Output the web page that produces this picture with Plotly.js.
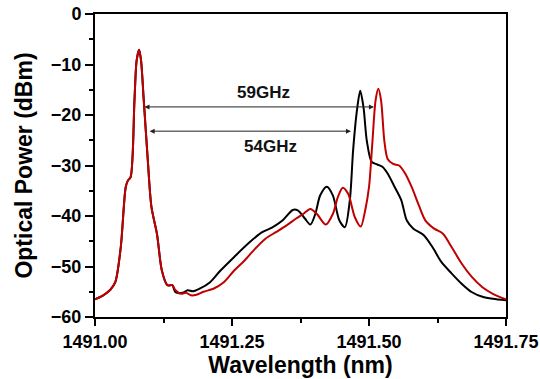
<!DOCTYPE html>
<html>
<head>
<meta charset="utf-8">
<script src="https://cdn.plot.ly/plotly-3.0.1.min.js"></script>
<style>html,body{margin:0;padding:0;background:#fff;}#chart{width:540px;height:379px;}</style>
</head>
<body>
<div id="chart"></div>
<script>
// Wavelength (nm) and optical power (dBm), black trace
const blackX = [1491.000,1491.015,1491.028,1491.037,1491.047,1491.056,1491.060,1491.065,1491.072,1491.076,1491.0805,1491.084,1491.089,1491.096,1491.103,1491.113,1491.122,1491.132,1491.141,1491.147,1491.160,1491.169,1491.179,1491.191,1491.210,1491.229,1491.254,1491.279,1491.305,1491.323,1491.342,1491.361,1491.370,1491.383,1491.393,1491.402,1491.411,1491.423,1491.434,1491.446,1491.456,1491.465,1491.471,1491.478,1491.484,1491.490,1491.496,1491.505,1491.515,1491.525,1491.534,1491.547,1491.559,1491.569,1491.581,1491.600,1491.616,1491.632,1491.651,1491.669,1491.688,1491.707,1491.726,1491.750];
const blackY = [-56.5,-55.7,-54.6,-53.1,-46.2,-34.3,-33.0,-32.3,-17.1,-9.2,-7.1,-9.2,-17.1,-28.4,-38.2,-43.5,-50.8,-53.7,-53.7,-55.1,-55.2,-54.7,-54.9,-54.4,-53.1,-50.8,-48.1,-45.5,-43.2,-42.3,-40.9,-38.8,-38.9,-40.5,-41.7,-39.6,-35.9,-34.2,-35.9,-40.9,-42.2,-36.9,-27.0,-19.1,-15.2,-18.5,-25.1,-29.3,-29.8,-30.3,-31.6,-34.3,-36.9,-40.9,-42.5,-43.8,-46.2,-49.1,-51.4,-53.4,-55.1,-56.0,-56.4,-56.7];
// Red trace
const redX = [1491.000,1491.015,1491.028,1491.037,1491.047,1491.056,1491.060,1491.065,1491.072,1491.076,1491.0805,1491.084,1491.089,1491.096,1491.103,1491.113,1491.122,1491.132,1491.141,1491.147,1491.157,1491.166,1491.175,1491.185,1491.198,1491.216,1491.235,1491.254,1491.273,1491.292,1491.311,1491.330,1491.349,1491.367,1491.380,1491.393,1491.405,1491.421,1491.434,1491.443,1491.452,1491.462,1491.474,1491.485,1491.493,1491.500,1491.506,1491.512,1491.517,1491.522,1491.528,1491.534,1491.544,1491.555,1491.566,1491.578,1491.591,1491.603,1491.619,1491.635,1491.651,1491.669,1491.688,1491.707,1491.726,1491.750];
const redY = [-56.5,-55.7,-54.6,-53.1,-46.2,-34.3,-33.0,-32.3,-17.1,-9.2,-7.1,-9.2,-17.1,-28.4,-38.2,-43.5,-50.8,-53.7,-53.7,-54.7,-55.4,-55.2,-55.7,-55.6,-55.0,-54.4,-53.1,-50.8,-48.8,-46.5,-44.5,-43.2,-41.9,-40.5,-39.6,-38.6,-39.6,-41.7,-39.6,-36.3,-34.4,-35.6,-40.2,-42.1,-38.9,-34.3,-25.7,-17.1,-14.8,-17.1,-25.1,-28.7,-29.7,-30.0,-31.6,-34.3,-37.9,-40.9,-42.5,-43.5,-46.2,-49.4,-52.1,-54.1,-55.4,-56.5];
// Spacing arrows
const arrowLabels = ["59GHz", "54GHz"];
const arrowStartX = [1491.0876, 1491.097];
const arrowEndX = [1491.509, 1491.467];
const arrowY = [-18.4, -23.2];
const labelX = [1491.308, 1491.321];
const labelY = [-15.6, -26.3];
const xTicks = [1491.00, 1491.25, 1491.50, 1491.75];
const xTickText = ["1491.00", "1491.25", "1491.50", "1491.75"];
const yTicks = [0, -10, -20, -30, -40, -50, -60];

const F = "Liberation Sans, Arial, sans-serif";
const traces = [
  {x: blackX, y: blackY, type: "scatter", mode: "lines", line: {color: "#000000", width: 2, shape: "spline", smoothing: 0.8}, showlegend: false},
  {x: redX, y: redY, type: "scatter", mode: "lines", line: {color: "#c00000", width: 2, shape: "spline", smoothing: 0.8}, showlegend: false}
];
const annotations = [];
for (let i = 0; i < arrowLabels.length; i++) {
  annotations.push({x: arrowEndX[i], y: arrowY[i], ax: arrowStartX[i], ay: arrowY[i], xref: "x", yref: "y", axref: "x", ayref: "y",
    text: "", showarrow: true, arrowhead: 2, startarrowhead: 2, arrowside: "end+start", arrowsize: 1, arrowwidth: 1, arrowcolor: "#222"});
  annotations.push({x: labelX[i], y: labelY[i], xref: "x", yref: "y", text: "<b>" + arrowLabels[i] + "</b>", showarrow: false,
    font: {family: F, size: 17, color: "#111"}});
}
const layout = {
  width: 540, height: 379,
  margin: {l: 95, r: 34, t: 14, b: 62},
  paper_bgcolor: "#fff", plot_bgcolor: "#fff",
  xaxis: {range: [1491.0, 1491.75], tickvals: xTicks, ticktext: xTickText, ticks: "outside", ticklen: 7, tickwidth: 2, tickcolor: "#000",
    showline: true, linewidth: 2, linecolor: "#000", mirror: true, showgrid: false, zeroline: false,
    minor: {tickvals: [1491.125, 1491.375, 1491.625], ticks: "outside", ticklen: 4, tickwidth: 2, tickcolor: "#000", showgrid: false},
    tickfont: {family: F, size: 18, color: "#000", weight: "bold"},
    title: {text: "<b>Wavelength (nm)</b>", font: {family: F, size: 23, color: "#000"}, standoff: 2}},
  yaxis: {range: [-60, 0], tickvals: yTicks, ticks: "outside", ticklen: 8, tickwidth: 2, tickcolor: "#000",
    showline: true, linewidth: 2, linecolor: "#000", mirror: true, showgrid: false, zeroline: false,
    minor: {dtick: 5, ticks: "outside", ticklen: 4, tickwidth: 2, tickcolor: "#000", showgrid: false},
    tickfont: {family: F, size: 18, color: "#000", weight: "bold"},
    title: {text: "<b>Optical Power (dBm)</b>", font: {family: F, size: 23, color: "#000"}, standoff: 12}},
  annotations: annotations
};
Plotly.newPlot("chart", traces, layout, {displayModeBar: false, staticPlot: true});
</script>
</body>
</html>
